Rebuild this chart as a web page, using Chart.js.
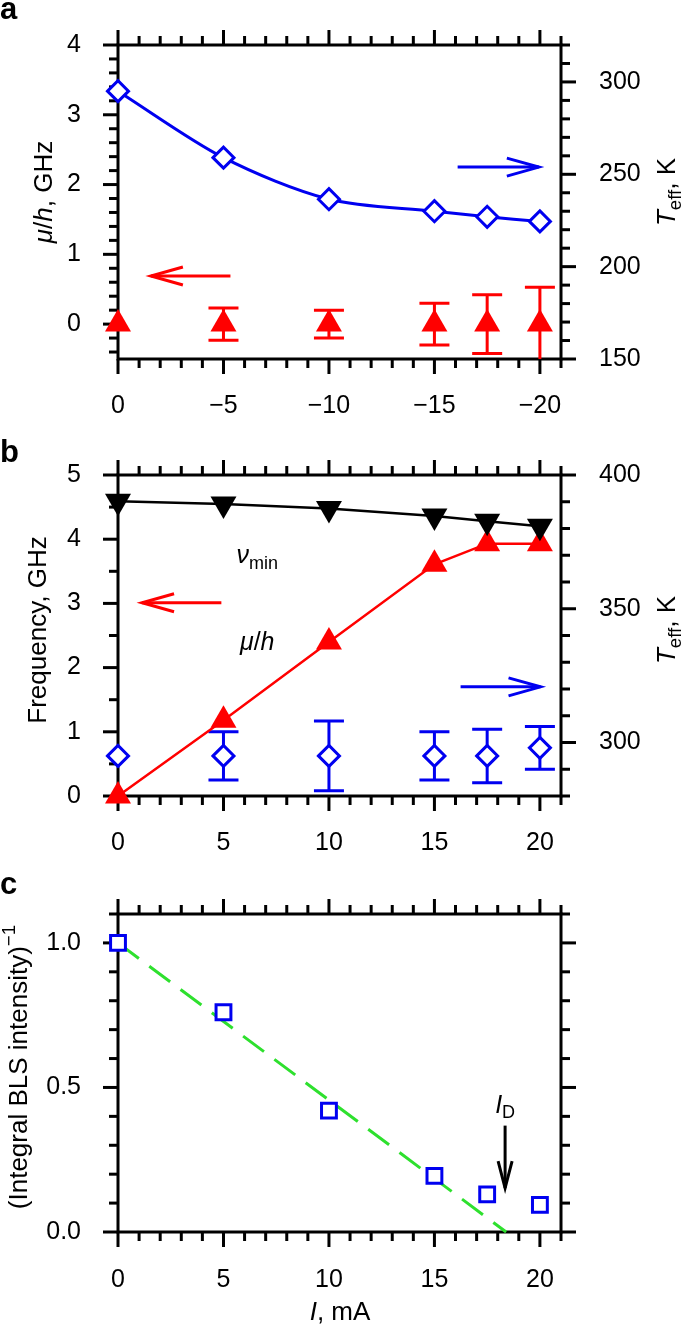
<!DOCTYPE html>
<html>
<head>
<meta charset="utf-8">
<script src="https://cdn.jsdelivr.net/npm/chart.js@4.4.1/dist/chart.umd.min.js"></script>
<style>
  html, body { margin: 0; padding: 0; background: #fff; }
  body { width: 685px; height: 1325px; position: relative; overflow: hidden; }
  canvas { position: absolute; left: 0; }
</style>
</head>
<body>
<canvas id="chartA" width="685" height="430" style="top:0px"></canvas>
<canvas id="chartB" width="685" height="440" style="top:430px"></canvas>
<canvas id="chartC" width="685" height="455" style="top:870px"></canvas>
<script>
// ---- data ----
// panel a (negative currents)
const currentA = [0, -5, -10, -15, -17.5, -20];
const teffA = [295, 259, 236.5, 230, 227, 224.5];
const muA = [0, 0, 0, 0, 0, 0];
const muErrA = [0, 0.23, 0.2, 0.3, 0.42, 0.53];
// panel b (positive currents)
const currentB = [0, 5, 10, 15, 17.5, 20];
const nuMinB = [4.59, 4.55, 4.48, 4.36, 4.28, 4.2];
const muB = [0, 1.18, 2.4, 3.61, 3.93, 3.93];
const teffB = [295, 295, 295, 295, 295, 298];
const teffErrB = [0, 9, 13, 9, 10, 8];
// panel c
const currentC = [0, 5, 10, 15, 17.5, 20];
const invIntensityC = [1.0, 0.76, 0.42, 0.194, 0.13, 0.094];
const fitCurrentC = [0, 18.4];
const fitInvIntensityC = [1.0, 0];

// tick labels
const xTicksA = [0, -5, -10, -15, -20];
const yTicksA = [0, 1, 2, 3, 4];
const yRTicksA = [150, 200, 250, 300];
const xTicksB = [0, 5, 10, 15, 20];
const yTicksB = [0, 1, 2, 3, 4, 5];
const yRTicksB = [300, 350, 400];
const xTicksC = [0, 5, 10, 15, 20];
const yTicksC = [0, 0.5, 1.0];

const FONT = "'Liberation Sans', Arial, Helvetica, sans-serif";
const RED = '#ff0000';
const BLUE = '#0000f0';
const GREEN = '#2ee02e';

function pts(xs, ys) {
    return xs.map((x, i) => ({x: x, y: ys[i]}));
}

function minusFmt(v) {
    return v < 0 ? '\u2212' + Math.abs(v) : '' + v;
}

function drawRich(ctx, segs, x, y, size, rot) {
    ctx.save();
    ctx.translate(x, y);
    ctx.rotate(rot);
    let total = 0;
    const parts = segs.map(s => {
        const fs = (s.sub || s.sup) ? size * 0.72 : size;
        const font = (s.i ? 'italic ' : '') + fs + 'px ' + FONT;
        ctx.font = font;
        const w = ctx.measureText(s.t).width;
        total += w;
        return {t: s.t, font: font, w: w, dy: s.sub ? size * 0.3 : (s.sup ? -size * 0.38 : 0)};
    });
    let cx = -total / 2;
    ctx.fillStyle = '#000';
    ctx.textBaseline = 'middle';
    ctx.textAlign = 'left';
    parts.forEach(p => {
        ctx.font = p.font;
        ctx.fillText(p.t, cx, p.dy);
        cx += p.w;
    });
    ctx.restore();
}

function drawArrow(ctx, x1, y1, x2, y2, color, headLen, headHalf) {
    const ang = Math.atan2(y2 - y1, x2 - x1);
    ctx.save();
    ctx.strokeStyle = color;
    ctx.lineWidth = 3;
    ctx.beginPath();
    ctx.moveTo(x1, y1);
    ctx.lineTo(x2, y2);
    ctx.stroke();
    ctx.beginPath();
    const c = Math.cos(ang), s = Math.sin(ang);
    ctx.moveTo(x2 - headLen * c - headHalf * s, y2 - headLen * s + headHalf * c);
    ctx.lineTo(x2, y2);
    ctx.lineTo(x2 - headLen * c + headHalf * s, y2 - headLen * s - headHalf * c);
    ctx.stroke();
    ctx.restore();
}

// frame, ticks, error bars, arrows, labels
const decoPlugin = {
    id: 'deco',
    beforeDatasetsDraw(chart, args, opts) {
        const ctx = chart.ctx;
        const area = chart.chartArea;
        ctx.save();
        ctx.strokeStyle = '#000';
        ctx.lineWidth = 3;
        ctx.strokeRect(area.left, area.top, area.right - area.left, area.bottom - area.top);
        (opts.ticks || []).forEach(t => {
            const scale = chart.scales[t.scale];
            const n0 = Math.ceil(scale.min / t.minor - 1e-6);
            const n1 = Math.floor(scale.max / t.minor + 1e-6);
            for (let n = n0; n <= n1; n++) {
                const v = n * t.minor;
                const r = v / t.major;
                const major = Math.abs(r - Math.round(r)) < 1e-6;
                const len = major ? 15 : 9;
                const p = scale.getPixelForValue(v);
                t.sides.forEach(side => {
                    ctx.beginPath();
                    if (side == 'left') { ctx.moveTo(area.left, p); ctx.lineTo(area.left - len, p); }
                    else if (side == 'right') { ctx.moveTo(area.right, p); ctx.lineTo(area.right + len, p); }
                    else if (side == 'top') { ctx.moveTo(p, area.top); ctx.lineTo(p, area.top - len); }
                    else { ctx.moveTo(p, area.bottom); ctx.lineTo(p, area.bottom + len); }
                    ctx.stroke();
                });
            }
        });
        ctx.restore();

        // error bars
        chart.data.datasets.forEach((ds, i) => {
            if (!ds.errorBars) return;
            const meta = chart.getDatasetMeta(i);
            const ys = chart.scales[ds.yAxisID];
            ctx.save();
            ctx.beginPath();
            ctx.rect(area.left - 20, area.top, area.right - area.left + 40, area.bottom - area.top);
            ctx.clip();
            ctx.strokeStyle = ds.pointBorderColor;
            ctx.lineWidth = 3;
            meta.data.forEach((el, j) => {
                const e = ds.errorBars[j];
                if (!e) return;
                const yv = ds.data[j].y;
                const top = ys.getPixelForValue(yv + e);
                const bot = ys.getPixelForValue(yv - e);
                ctx.beginPath();
                ctx.moveTo(el.x, top); ctx.lineTo(el.x, bot);
                ctx.moveTo(el.x - 15, top); ctx.lineTo(el.x + 15, top);
                ctx.moveTo(el.x - 15, bot); ctx.lineTo(el.x + 15, bot);
                ctx.stroke();
            });
            ctx.restore();
        });
    },
    afterDraw(chart, args, opts) {
        const ctx = chart.ctx;
        (opts.arrows || []).forEach(a => {
            const xs = chart.scales[a.xScale || 'x'];
            const ys = chart.scales[a.yScale || 'y'];
            drawArrow(ctx, xs.getPixelForValue(a.x1), ys.getPixelForValue(a.y1),
                xs.getPixelForValue(a.x2), ys.getPixelForValue(a.y2), a.color, a.len, a.half);
        });
        (opts.notes || []).forEach(n => {
            const xs = chart.scales.x, ys = chart.scales.y;
            drawRich(ctx, n.segs, xs.getPixelForValue(n.x), ys.getPixelForValue(n.y), n.size, 0);
        });
        (opts.titles || []).forEach(t => {
            drawRich(ctx, t.segs, t.x, t.y, t.size, t.rot);
        });
        if (opts.letter) {
            ctx.save();
            ctx.font = 'bold 31px ' + FONT;
            ctx.fillStyle = '#000';
            ctx.textBaseline = 'alphabetic';
            ctx.fillText(opts.letter.t, opts.letter.x, opts.letter.y);
            ctx.restore();
        }
    }
};

function tickFont() {
    return {family: FONT, size: 25};
}

function xScale(min, max, reverse, height, tickVals, pad) {
    return {
        type: 'linear', min: min, max: max, reverse: reverse,
        afterFit: s => { s.height = height; },
        afterBuildTicks: s => { s.ticks = tickVals.map(v => ({value: v})); },
        grid: {display: false}, border: {display: false},
        ticks: {font: tickFont(), color: '#000', padding: pad, maxRotation: 0, autoSkip: false, callback: minusFmt}
    };
}

function yScale(pos, min, max, width, tickVals, fmt) {
    return {
        type: 'linear', position: pos, min: min, max: max,
        afterFit: s => { s.width = width; },
        afterBuildTicks: s => { s.ticks = tickVals.map(v => ({value: v})); },
        grid: {display: false}, border: {display: false},
        ticks: {font: tickFont(), color: '#000', padding: pos == 'left' ? 29 : 30, autoSkip: false, callback: fmt}
    };
}

const teffTitle = [{t: 'T', i: true}, {t: 'eff', sub: true}, {t: ', K'}];
const ROT = -Math.PI / 2;

// ---- panel a ----
new Chart(document.getElementById('chartA'), {
    type: 'scatter',
    data: {
        datasets: [
            {
                data: pts(currentA, teffA), yAxisID: 'yR', showLine: true,
                borderColor: BLUE, borderWidth: 3, tension: 0.3,
                pointStyle: 'rectRot', pointRadius: 10.5, pointBorderWidth: 3,
                pointBackgroundColor: '#fff', pointBorderColor: BLUE, clip: false
            },
            {
                data: pts(currentA, muA), yAxisID: 'y', showLine: false,
                pointStyle: 'triangle', pointRadius: 15, pointBorderWidth: 0,
                pointBackgroundColor: RED, pointBorderColor: RED,
                errorBars: muErrA, clip: false
            }
        ]
    },
    options: {
        responsive: false, animation: false,
        layout: {padding: {top: 26, left: 0, right: 0, bottom: 0}},
        plugins: {
            legend: {display: false}, tooltip: {enabled: false},
            deco: {
                letter: {t: 'a', x: 0, y: 19},
                ticks: [
                    {scale: 'x', sides: ['bottom', 'top'], minor: 1, major: 5},
                    {scale: 'y', sides: ['left'], minor: 0.2, major: 1},
                    {scale: 'yR', sides: ['right'], minor: 10, major: 50}
                ],
                arrows: [
                    {x1: -5.33, y1: 0.69, x2: -1.56, y2: 0.69, color: RED, len: 32, half: 9},
                    {x1: -16.1, y1: 2.25, x2: -19.95, y2: 2.25, color: BLUE, len: 32, half: 9}
                ],
                titles: [
                    {segs: [{t: '\u03bc', i: true}, {t: '/'}, {t: 'h', i: true}, {t: ', GHz'}], x: 45, y: 192, size: 26, rot: ROT},
                    {segs: teffTitle, x: 668, y: 192, size: 26, rot: ROT}
                ]
            }
        },
        scales: {
            x: xScale(-21, 0, true, 71, xTicksA, 24),
            y: yScale('left', -0.5, 4, 118, yTicksA, v => '' + v),
            yR: yScale('right', 150, 320, 124, yRTicksA, v => '' + v)
        }
    },
    plugins: [decoPlugin]
});

// ---- panel b ----
new Chart(document.getElementById('chartB'), {
    type: 'scatter',
    data: {
        datasets: [
            {
                data: pts(currentB, nuMinB), yAxisID: 'y', showLine: true,
                borderColor: '#000', borderWidth: 2.5,
                pointStyle: 'triangle', pointRotation: 180, pointRadius: 15, pointBorderWidth: 0,
                pointBackgroundColor: '#000', pointBorderColor: '#000', clip: false
            },
            {
                data: pts(currentB, muB), yAxisID: 'y', showLine: true,
                borderColor: RED, borderWidth: 2.5,
                pointStyle: 'triangle', pointRadius: 15, pointBorderWidth: 0,
                pointBackgroundColor: RED, pointBorderColor: RED, clip: false
            },
            {
                data: pts(currentB, teffB), yAxisID: 'yR', showLine: false,
                pointStyle: 'rectRot', pointRadius: 10.5, pointBorderWidth: 3,
                pointBackgroundColor: '#fff', pointBorderColor: BLUE,
                errorBars: teffErrB, clip: false
            }
        ]
    },
    options: {
        responsive: false, animation: false,
        layout: {padding: {top: 34, left: 0, right: 0, bottom: 0}},
        plugins: {
            legend: {display: false}, tooltip: {enabled: false},
            deco: {
                letter: {t: 'b', x: 0, y: 32},
                ticks: [
                    {scale: 'x', sides: ['bottom', 'top'], minor: 1, major: 5},
                    {scale: 'y', sides: ['left'], minor: 0.5, major: 1},
                    {scale: 'yR', sides: ['right'], minor: 10, major: 50}
                ],
                arrows: [
                    {x1: 4.9, y1: 3.01, x2: 1.14, y2: 3.01, color: RED, len: 32, half: 9},
                    {x1: 16.24, y1: 1.7, x2: 20.03, y2: 1.7, color: BLUE, len: 32, half: 9}
                ],
                notes: [
                    {segs: [{t: '\u03bd', i: true}, {t: 'min', sub: true}], x: 6.6, y: 3.73, size: 25},
                    {segs: [{t: '\u03bc', i: true}, {t: '/'}, {t: 'h', i: true}], x: 6.6, y: 2.38, size: 25}
                ],
                titles: [
                    {segs: [{t: 'Frequency, GHz'}], x: 39, y: 200, size: 26, rot: ROT},
                    {segs: teffTitle, x: 668, y: 200, size: 26, rot: ROT}
                ]
            }
        },
        scales: {
            x: xScale(0, 21, false, 74, xTicksB, 24),
            y: yScale('left', 0, 5, 118, yTicksB, v => '' + v),
            yR: yScale('right', 280, 400, 124, yRTicksB, v => '' + v)
        }
    },
    plugins: [decoPlugin]
});

// ---- panel c ----
new Chart(document.getElementById('chartC'), {
    type: 'scatter',
    data: {
        datasets: [
            {
                data: pts(currentC, invIntensityC), yAxisID: 'y', showLine: false,
                pointStyle: 'rect', pointRadius: 10.5, pointBorderWidth: 3,
                pointBackgroundColor: '#fff', pointBorderColor: BLUE, clip: false
            },
            {
                data: pts(fitCurrentC, fitInvIntensityC), yAxisID: 'y', showLine: true,
                borderColor: GREEN, borderWidth: 3, borderDash: [26, 13],
                pointRadius: 0, clip: false
            }
        ]
    },
    options: {
        responsive: false, animation: false,
        layout: {padding: {top: 32, left: 0, right: 124, bottom: 0}},
        plugins: {
            legend: {display: false}, tooltip: {enabled: false},
            deco: {
                letter: {t: 'c', x: 0, y: 24},
                ticks: [
                    {scale: 'x', sides: ['bottom', 'top'], minor: 1, major: 5},
                    {scale: 'y', sides: ['left', 'right'], minor: 0.1, major: 0.5}
                ],
                arrows: [
                    {x1: 18.35, y1: 0.368, x2: 18.35, y2: 0.152, color: '#000', len: 27, half: 7}
                ],
                notes: [
                    {segs: [{t: 'I', i: true}, {t: 'D', sub: true}], x: 18.35, y: 0.437, size: 25}
                ],
                titles: [
                    {segs: [{t: '(Integral BLS intensity)'}, {t: '\u22121', sup: true}], x: 20, y: 197, size: 26, rot: ROT},
                    {segs: [{t: 'I', i: true}, {t: ', mA'}], x: 340, y: 443, size: 26, rot: 0}
                ]
            }
        },
        scales: {
            x: xScale(0, 21, false, 93, xTicksC, 25),
            y: yScale('left', 0, 1.1, 118, yTicksC, v => v.toFixed(1))
        }
    },
    plugins: [decoPlugin]
});
</script>
</body>
</html>
